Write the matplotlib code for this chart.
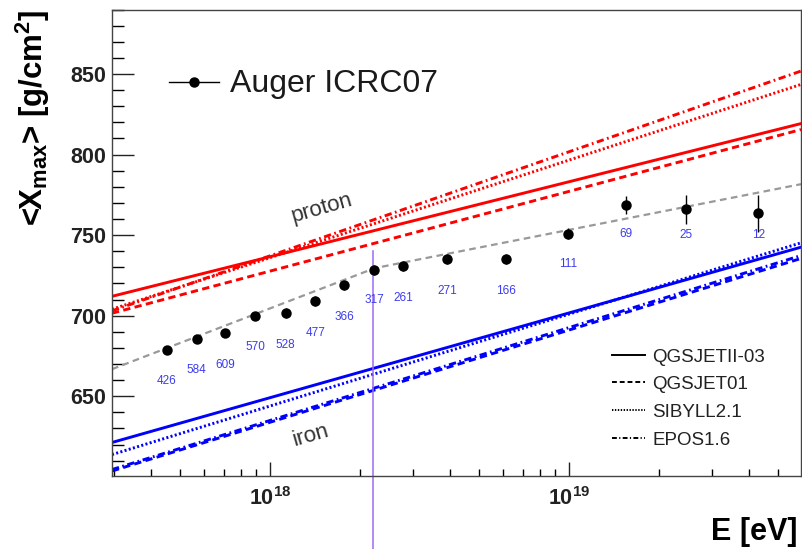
import matplotlib.pyplot as plt
from matplotlib.ticker import LogLocator, NullFormatter, MultipleLocator

plt.rcParams['font.family'] = ['Liberation Sans', 'DejaVu Sans']
plt.rcParams['mathtext.fontset'] = 'custom'
plt.rcParams['mathtext.rm'] = 'Liberation Sans'
plt.rcParams['mathtext.bf'] = 'Liberation Sans:bold'
plt.rcParams['mathtext.it'] = 'Liberation Sans:italic'

# Auger ICRC07 measurement
energy = [4.51e17, 5.69e17, 7.09e17, 8.93e17, 1.128e18, 1.418e18, 1.772e18, 2.227e18,
          2.79e18, 3.92e18, 6.15e18, 9.92e18, 1.555e19, 2.455e19, 4.30e19]
xmax = [678.7, 685.5, 689.4, 699.8, 701.7, 709.3, 718.8, 728.2,
        730.7, 735.0, 735.0, 750.8, 768.8, 766.1, 763.6]
xmax_err = [2.5, 2.5, 2.5, 2.5, 3.0, 3.0, 3.0, 3.0, 3.0, 3.0, 3.0, 3.5, 5.5, 9.0, 11.5]
n_events = [426, 584, 609, 570, 528, 477, 366, 317, 261, 271, 166, 111, 69, 25, 12]

# broken line fit through the data
fit_energy = [2.96e17, 2.24e18, 5.97e19]
fit_xmax = [666.8, 729.5, 781.6]

# model predictions (straight lines in log E), values at the two ends
model_energy = [2.96e17, 5.97e19]
models = ['QGSJETII-03', 'QGSJET01', 'SIBYLL2.1', 'EPOS1.6']
proton_qgsjet2 = [712.0, 819.2]
proton_qgsjet01 = [701.5, 815.5]
proton_sibyll = [704.0, 843.5]
proton_epos = [703.0, 851.8]
iron_qgsjet2 = [621.3, 742.5]
iron_qgsjet01 = [603.6, 735.5]
iron_sibyll = [613.8, 745.2]
iron_epos = [604.5, 737.3]

# energy of the vertical marker
marker_energy = 2.21e18

# styles
styles = ['-', (0, (2.5, 1.5)), (0, (0.7, 0.8)), (0, (2.5, 1.2, 0.6, 1.2))]
label_dy = [31, 31, 32, 31, 32, 32, 32, 30, 32, 32, 32, 30, 29, 26, 22]

fig = plt.figure(figsize=(8.03, 5.49), dpi=100)
ax = fig.add_axes([112 / 803, 1 - 476 / 549, 689 / 803, 466.5 / 549])
ax.set_xscale('log')
ax.set_xlim(2.96e17, 5.97e19)
ax.set_ylim(600.5, 890)

# model lines
proton_lines = [proton_qgsjet2, proton_qgsjet01, proton_sibyll, proton_epos]
iron_lines = [iron_qgsjet2, iron_qgsjet01, iron_sibyll, iron_epos]
for vals, ls in zip(proton_lines, styles):
    ax.plot(model_energy, vals, color='#ff0000', lw=2.1, linestyle=ls)
for vals, ls in zip(iron_lines, styles):
    ax.plot(model_energy, vals, color='#0000ff', lw=2.1, linestyle=ls)

# fit and data
ax.plot(fit_energy, fit_xmax, color='#999999', lw=1.6, linestyle=(0, (3, 2)))
ax.errorbar(energy, xmax, yerr=xmax_err, fmt='o', color='black', ms=6.5,
            elinewidth=1.0, capsize=0, zorder=5)
for e, v, n, dy in zip(energy, xmax, n_events, label_dy):
    ax.annotate(str(n), (e, v), xytext=(0, -dy), textcoords='offset pixels',
                ha='center', va='center', fontsize=8.5, color='#3c3cf0')

# vertical marker line running below the axis
ax.axvline(marker_energy, ymin=-0.157, ymax=0.483, color='#9b6bf2', lw=1.1, clip_on=False)

# curve labels
ax.text(1.49e18, 766.5, 'proton', rotation=16, fontsize=16, color='#333333',
        ha='center', va='center')
ax.text(1.37e18, 625.4, 'iron', rotation=16, fontsize=16, color='#333333',
        ha='center', va='center')

# Auger legend
ax.plot([0.0827, 0.1553], [0.8452, 0.8452], color='black', lw=1.0, transform=ax.transAxes)
ax.plot([0.119], [0.8452], 'o', color='black', ms=6.5, transform=ax.transAxes)
ax.text(0.1713, 0.8238, 'Auger ICRC07', fontsize=23, color='#1a1a1a',
        transform=ax.transAxes, va='baseline')

# model legend
line_y = [0.2594, 0.2009, 0.1415, 0.0821]
text_y = [0.2444, 0.1859, 0.1265, 0.0671]
for name, ls, ly, ty in zip(models, styles, line_y, text_y):
    ax.plot([0.7257, 0.7736], [ly, ly], color='black', lw=1.4, linestyle=ls,
            transform=ax.transAxes)
    ax.text(0.7842, ty, name, fontsize=13.5, color='#222222', transform=ax.transAxes,
            va='baseline')

# axes styling
for side in ['left', 'bottom', 'right', 'top']:
    ax.spines[side].set_color('#444444')
    ax.spines[side].set_linewidth(1.0)
ax.set_xticks([1e18, 1e19], labels=[r'$\mathbf{10^{18}}$', r'$\mathbf{10^{19}}$'])
ax.xaxis.set_minor_locator(LogLocator(base=10, subs=range(2, 10)))
ax.xaxis.set_minor_formatter(NullFormatter())
ax.yaxis.set_major_locator(MultipleLocator(50))
ax.yaxis.set_minor_locator(MultipleLocator(10))
ax.tick_params(axis='x', which='major', direction='in', length=10, width=1, pad=8,
               labelsize=15.5, colors='#222222')
ax.tick_params(axis='x', which='minor', direction='in', length=5, width=1)
ax.tick_params(axis='y', which='major', direction='in', length=15.8, width=1, pad=4,
               labelsize=15.5, colors='#222222')
ax.tick_params(axis='y', which='minor', direction='in', length=8.6, width=1)
for lab in ax.get_yticklabels():
    lab.set_fontweight('bold')

# axis titles
fig.text(33 / 803, 1 - 118 / 549, '<X$_{\\mathbf{max}}$> [g/cm$^{\\mathbf{2}}$]',
         rotation=90, fontsize=22.5, fontweight='bold', ha='center', va='center')
fig.text(798 / 803, 1 - 540 / 549, 'E [eV]', fontsize=22, fontweight='bold',
         ha='right', va='baseline')

fig.savefig('out.png', dpi=100)
